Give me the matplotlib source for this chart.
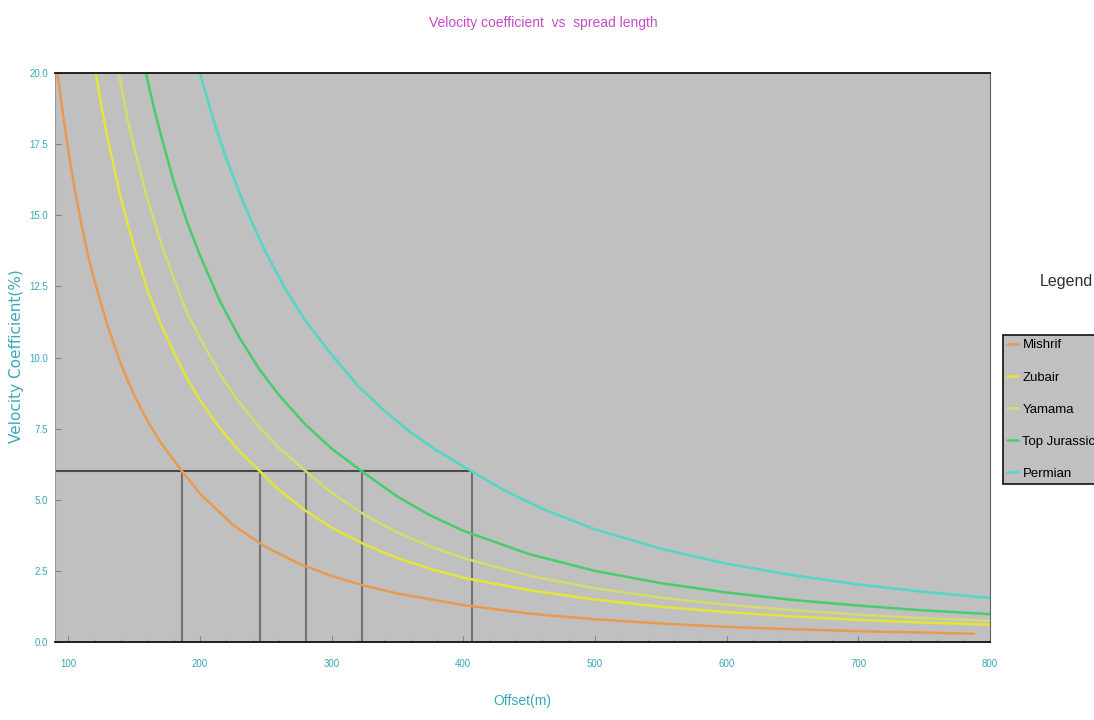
import matplotlib
matplotlib.use("Agg")
import matplotlib.pyplot as plt
from matplotlib.ticker import MultipleLocator, FormatStrFormatter

# Velocity coefficient (%) vs offset (m)
mishrif_x = [91, 95, 100, 105, 110, 115, 120, 130, 140, 150, 160, 170, 186.5,
             200, 225, 250, 275, 300, 325, 350, 400, 450, 500, 550, 600, 650, 700, 750, 788]
mishrif_y = [20.3, 18.9, 17.3, 15.9, 14.7, 13.6, 12.7, 11.1, 9.77, 8.69, 7.79, 7.02, 6.0,
             5.22, 4.12, 3.34, 2.76, 2.32, 1.98, 1.70, 1.30, 1.00, 0.80, 0.65, 0.53, 0.45, 0.38, 0.33, 0.29]

zubair_x = [118, 120, 125, 130, 140, 150, 160, 170, 180, 190, 200, 215, 230, 245.6,
            260, 280, 300, 325, 350, 375, 400, 450, 500, 550, 600, 650, 700, 750, 800]
zubair_y = [20.9, 20.3, 18.9, 17.7, 15.6, 13.9, 12.4, 11.2, 10.2, 9.28, 8.51, 7.52, 6.71, 6.0,
            5.35, 4.62, 4.02, 3.43, 2.95, 2.57, 2.26, 1.82, 1.49, 1.24, 1.05, 0.90, 0.78, 0.68, 0.61]

yamama_x = [135, 140, 145, 150, 160, 170, 180, 190, 200, 215, 230, 245, 260, 280.5,
            300, 325, 350, 375, 400, 450, 500, 550, 600, 650, 700, 750, 800]
yamama_y = [20.8, 19.6, 18.4, 17.4, 15.6, 14.1, 12.8, 11.6, 10.7, 9.43, 8.41, 7.55, 6.83, 6.0,
            5.25, 4.47, 3.85, 3.36, 2.95, 2.33, 1.89, 1.56, 1.31, 1.12, 0.96, 0.84, 0.74]

jurassic_x = [155, 160, 165, 170, 180, 190, 200, 215, 230, 245, 260, 280, 300, 323,
              350, 375, 400, 450, 500, 550, 600, 650, 700, 750, 800]
jurassic_y = [20.9, 19.8, 18.8, 17.9, 16.2, 14.8, 13.6, 12.0, 10.7, 9.60, 8.68, 7.65, 6.80, 6.0,
              5.11, 4.45, 3.91, 3.09, 2.50, 2.07, 1.74, 1.48, 1.28, 1.11, 0.98]

permian_x = [195, 200, 205, 210, 220, 230, 240, 250, 265, 280, 300, 320, 340, 360, 380, 406.4,
             430, 460, 500, 550, 600, 650, 700, 750, 800]
permian_y = [20.9, 20.0, 19.2, 18.4, 17.0, 15.8, 14.7, 13.7, 12.4, 11.3, 10.1, 9.01, 8.13, 7.37, 6.73, 6.0,
             5.36, 4.68, 3.96, 3.28, 2.75, 2.35, 2.02, 1.76, 1.55]

formations = ["Mishrif", "Zubair", "Yamama", "Top Jurassic", "Permian"]
colors = ["#e89a52", "#e4e43a", "#d6dc6a", "#48cc6c", "#52d6c6"]

# threshold coefficient and the offsets where each curve meets it
threshold = 6.0
cross_offsets = [186.5, 245.6, 280.5, 323, 406.4]

series = [(mishrif_x, mishrif_y), (zubair_x, zubair_y), (yamama_x, yamama_y),
          (jurassic_x, jurassic_y), (permian_x, permian_y)]

font = "Liberation Sans"
teal = "#3aa8b8"

fig = plt.figure(figsize=(10.94, 7.2), dpi=100)
ax = fig.add_axes([55 / 1094, 78 / 720, 935 / 1094, 569 / 720])
ax.set_facecolor("#c0c0c0")

for (xs, ys), name, c in zip(series, formations, colors):
    ax.plot(xs, ys, color=c, lw=1.8, label=name, solid_capstyle="round")

ax.hlines(threshold, 90, cross_offsets[-1], color="#4a4a4a", lw=1.5, zorder=1)
ax.vlines(cross_offsets, 0, threshold, color="#727272", lw=1.5, zorder=1)

ax.set_xlim(90, 800)
ax.set_ylim(0, 20)
ax.xaxis.set_major_locator(MultipleLocator(100))
ax.xaxis.set_minor_locator(MultipleLocator(20))
ax.yaxis.set_major_locator(MultipleLocator(2.5))
ax.yaxis.set_major_formatter(FormatStrFormatter("%.1f"))
ax.tick_params(axis="both", which="major", direction="in", length=4, color="#808080",
               labelsize=7, labelcolor=teal)
ax.tick_params(axis="x", which="major", pad=12)
ax.tick_params(axis="y", which="major", pad=5)
ax.tick_params(axis="x", which="minor", direction="in", length=2, color="#909090")
for lab in ax.get_xticklabels() + ax.get_yticklabels():
    lab.set_family(font)

for side in ["top", "bottom"]:
    ax.spines[side].set_color("#111111")
    ax.spines[side].set_linewidth(1.3)
ax.spines["left"].set_color("#9a9a9a")
ax.spines["right"].set_color("#606060")

ax.set_xlabel("Offset(m)", color=teal, fontsize=10, family=font, labelpad=18)
fig.text(17 / 1094, 0.505, "Velocity Coefficient(%)", color=teal, fontsize=11,
         rotation=90, ha="center", va="center")

fig.text(0.497, 0.968, "Velocity coefficient  vs  spread length", color="#c848c8",
         fontsize=10, family=font, ha="center", va="center")

fig.text(1066 / 1094, 1 - 282 / 720, "Legend", color="#303030", fontsize=11.5,
         family=font, ha="center", va="center")
leg = fig.legend(loc="upper left", bbox_to_anchor=(1000 / 1094, 1 - 332 / 720),
                 handlelength=0.8, handletextpad=0.35, labelspacing=1.5,
                 borderpad=0.35, borderaxespad=0.2, fancybox=False, framealpha=1,
                 facecolor="#c0c0c0", edgecolor="#111111",
                 prop={"family": font, "size": 9.5})
leg.get_frame().set_linewidth(1.2)

fig.savefig("out.png", dpi=100)
